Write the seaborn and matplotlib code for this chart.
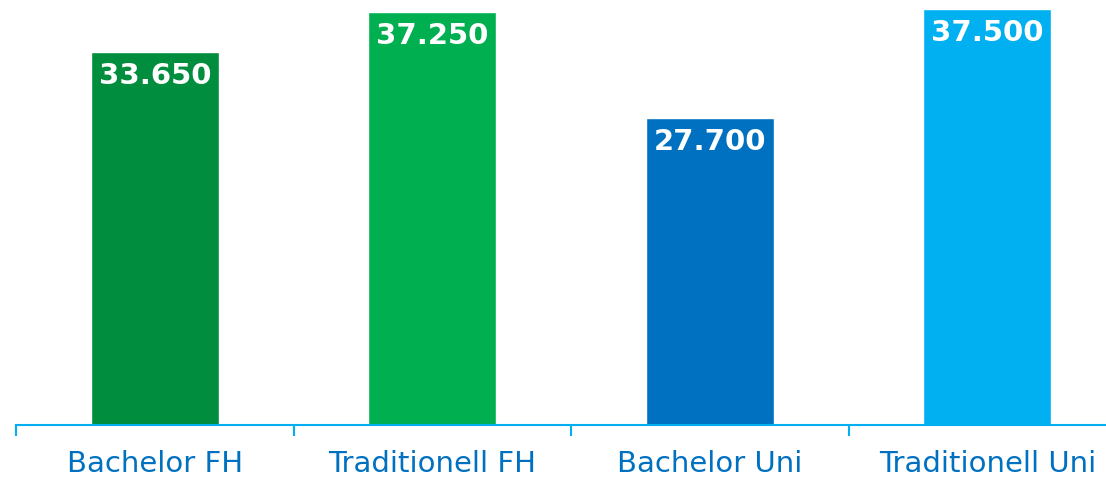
import matplotlib
matplotlib.use("Agg")
import matplotlib.pyplot as plt
import seaborn as sns
import pandas as pd

categories = ["Bachelor FH", "Traditionell FH", "Bachelor Uni", "Traditionell Uni"]
values = [33650, 37250, 27700, 37500]
labels = ["33.650", "37.250", "27.700", "37.500"]
colors = ["#008E3E", "#00B050", "#0070C0", "#00B0F0"]

sns.set_theme(style="white")
plt.rcParams["font.family"] = ["DejaVu Sans"]

df = pd.DataFrame({"cat": categories, "val": values})

fig = plt.figure(figsize=(11.06, 4.78), dpi=100)
ax = fig.add_axes([16 / 1106, 53 / 478, 1110 / 1106, 425 / 478])
sns.barplot(data=df, x="cat", y="val", hue="cat", palette=colors, legend=False,
            width=0.462, saturation=1, ax=ax)

ax.set_xlim(-0.5, 3.5)
ax.set_ylim(0, 38312)
for s in ["top", "right", "left"]:
    ax.spines[s].set_visible(False)
ax.spines["bottom"].set_color("#00B0F0")
ax.spines["bottom"].set_linewidth(1.5)
ax.set_yticks([])
ax.set_xticks([-0.5, 0.5, 1.5, 2.5], minor=True)
ax.set_xticks(range(4))
ax.set_xticklabels(categories, fontsize=21, color="#0070C0")
ax.tick_params(axis="x", which="major", length=0, pad=18)
ax.tick_params(axis="x", which="minor", length=8, width=1.5, color="#00B0F0", bottom=True)
ax.set_xlabel("")
ax.set_ylabel("")

for i, (v, lab) in enumerate(zip(values, labels)):
    ax.annotate(lab, (i, v), xytext=(0, -24), textcoords="offset pixels",
                ha="center", va="center", fontsize=21, fontweight="bold", color="white")

fig.savefig("out.png", dpi=100)
